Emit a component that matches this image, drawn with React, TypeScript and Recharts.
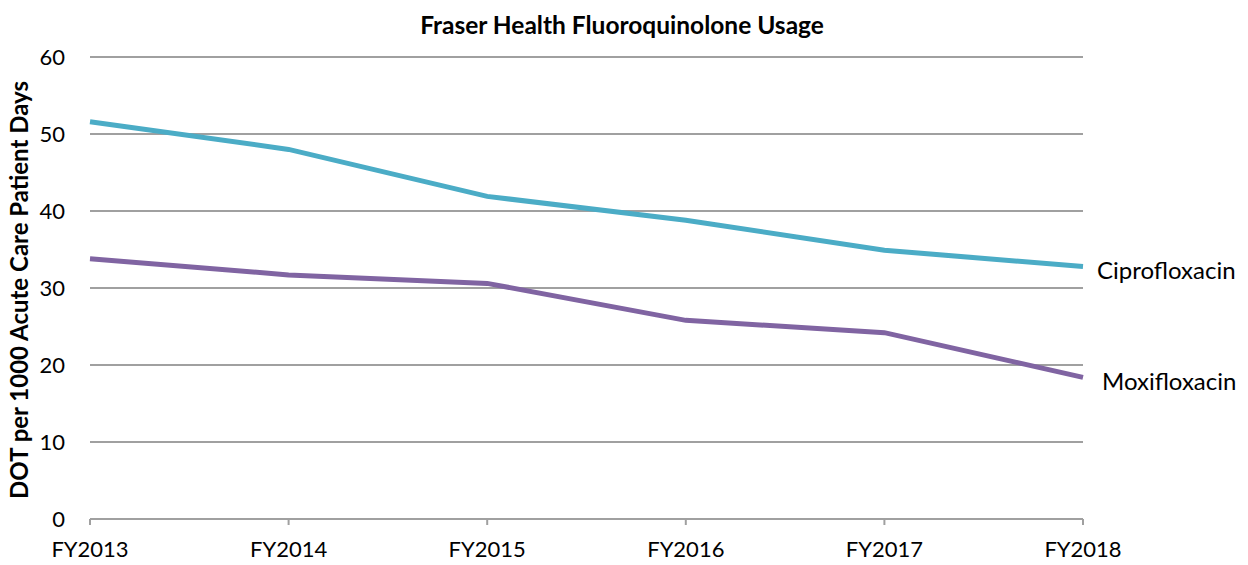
import { CartesianGrid, LabelList, Line, LineChart, XAxis, YAxis } from "recharts"

const years = ["FY2013", "FY2014", "FY2015", "FY2016", "FY2017", "FY2018"]
const cipro = [51.6, 48.0, 41.9, 38.8, 34.9, 32.8]
const moxi = [33.8, 31.7, 30.6, 25.8, 24.2, 18.4]
const yTicks = [0, 10, 20, 30, 40, 50, 60]

const data = years.map((year, i) => ({ year, cipro: cipro[i], moxi: moxi[i] }))

const font = "Lato, 'Open Sans', sans-serif"

const endLabel = (name: string, dx: number, dy: number) => (props: any) => {
    const { x, y, index } = props
    if (index !== data.length - 1) return null
    return (
        <text x={x + dx} y={y + dy} fontSize={24} fill="#000" fontFamily={font} dominantBaseline="central">
            {name}
        </text>
    )
}

export default function App() {
    return (
        <div style={{ position: "absolute", left: 0, top: 0, width: 1248, height: 565, background: "#fff" }}>
            <LineChart width={1248} height={565} data={data} margin={{ top: 57, right: 165, bottom: 0, left: 0 }}>
                <text x={622} y={24} textAnchor="middle" dominantBaseline="central" fontSize={24.5} fontWeight="bold" fontFamily={font} fill="#000">
                    Fraser Health Fluoroquinolone Usage
                </text>
                <CartesianGrid vertical={false} stroke="#a0a0a0" strokeWidth={2} />
                <XAxis
                    dataKey="year"
                    height={46}
                    stroke="#a0a0a0"
                    strokeWidth={2}
                    tickSize={6}
                    tickMargin={16}
                    tick={{ fill: "#000", fontSize: 22, fontFamily: font }}
                    interval={0}
                />
                <YAxis
                    width={90}
                    domain={[0, 60]}
                    ticks={yTicks}
                    axisLine={false}
                    tickLine={false}
                    tickSize={6}
                    tickMargin={19}
                    tick={{ fill: "#000", fontSize: 22, fontFamily: font }}
                    label={{
                        value: "DOT per 1000 Acute Care Patient Days",
                        angle: -90,
                        position: "insideLeft",
                        dx: 14,
                        dy: 2,
                        style: { textAnchor: "middle", fontSize: 24, fontWeight: "bold", fill: "#000", fontFamily: font },
                    }}
                />
                <Line dataKey="cipro" stroke="#4bacc6" strokeWidth={5} dot={false} isAnimationActive={false}>
                    <LabelList dataKey="cipro" content={endLabel("Ciprofloxacin", 14, 3)} />
                </Line>
                <Line dataKey="moxi" stroke="#8064a2" strokeWidth={5} dot={false} isAnimationActive={false}>
                    <LabelList dataKey="moxi" content={endLabel("Moxifloxacin", 19, 3)} />
                </Line>
            </LineChart>
        </div>
    )
}
